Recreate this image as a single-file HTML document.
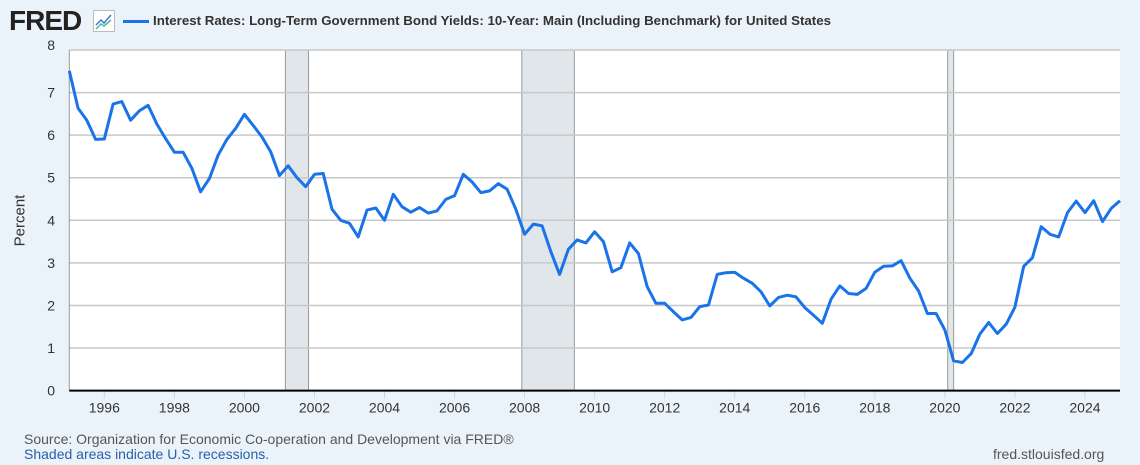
<!DOCTYPE html>
<html><head><meta charset="utf-8"><style>
body{margin:0;width:1140px;height:465px;background:#ebf3fa;font-family:"Liberation Sans",sans-serif;overflow:hidden;position:relative}
.t{position:absolute;white-space:nowrap}
</style></head><body>
<div class="t" style="left:9px;top:5px;font-size:28px;font-weight:bold;color:#222;letter-spacing:-1px">FRED</div>
<svg class="t" style="left:93px;top:10px" width="22" height="22"><rect x="0.5" y="0.5" width="21" height="21" fill="#fff" stroke="#bbb"/><polyline points="3,15 8,10 11,13 18,5" fill="none" stroke="#3a7bd5" stroke-width="1.5"/><polyline points="3,19 8,14 11,16 18,10" fill="none" stroke="#4db89a" stroke-width="1.5"/></svg>
<div class="t" style="left:123px;top:20px;width:26px;height:3px;background:#1a73e8"></div>
<div class="t" style="left:153px;top:13px;font-size:13.3px;font-weight:bold;color:#333">Interest Rates: Long-Term Government Bond Yields: 10-Year: Main (Including Benchmark) for United States</div>
<svg id="c" class="t" style="left:0;top:0" width="1140" height="465"></svg>
<div class="t" style="left:-6px;top:212px;font-size:15px;color:#333;transform:rotate(-90deg)">Percent</div>
<div class="t" style="left:24px;top:431px;font-size:14px;color:#555">Source: Organization for Economic Co-operation and Development via FRED®</div>
<div class="t" style="left:24px;top:446px;font-size:14px;color:#2a5ea8">Shaded areas indicate U.S. recessions.</div>
<div class="t" style="left:993px;top:446px;font-size:14px;color:#555">fred.stlouisfed.org</div>
<script>
const values=[7.51,6.63,6.35,5.9,5.91,6.73,6.79,6.35,6.57,6.70,6.26,5.92,5.6,5.6,5.22,4.67,4.98,5.53,5.9,6.16,6.49,6.23,5.96,5.61,5.05,5.28,5.0,4.79,5.08,5.1,4.26,4.0,3.93,3.61,4.24,4.29,4.0,4.61,4.32,4.19,4.30,4.17,4.22,4.49,4.58,5.08,4.90,4.65,4.69,4.86,4.73,4.26,3.67,3.91,3.87,3.26,2.73,3.32,3.54,3.47,3.73,3.50,2.79,2.89,3.47,3.22,2.44,2.05,2.05,1.85,1.66,1.72,1.97,2.01,2.73,2.77,2.78,2.64,2.52,2.32,1.99,2.19,2.24,2.20,1.95,1.77,1.58,2.15,2.46,2.28,2.26,2.40,2.78,2.92,2.93,3.05,2.64,2.34,1.81,1.81,1.42,0.70,0.66,0.87,1.33,1.60,1.34,1.56,1.96,2.92,3.12,3.85,3.67,3.61,4.18,4.45,4.18,4.46,3.97,4.28,4.46];
const startYear=1995;
const yTicks=[0,1,2,3,4,5,6,7,8];
const xTicks=[1996,1998,2000,2002,2004,2006,2008,2010,2012,2014,2016,2018,2020,2022,2024];
const recessions=[[2001.17,2001.83],[2007.92,2009.42],[2020.08,2020.25]];
const L=69.3,R=1120,T=50,B=390.6;
const X=t=>L+(t-1995)*(R-L)/30;
const Y=v=>B-(v/8)*(B-T);
const s=document.getElementById('c'),NS='http://www.w3.org/2000/svg';
function mk(tag,a){const e=document.createElementNS(NS,tag);for(const k in a)e.setAttribute(k,a[k]);s.appendChild(e);return e;}
const bg=mk('rect',{x:L,y:T,width:R-L,height:B-T,fill:'#fff'});


recessions.forEach(r=>{const e=mk('rect',{x:X(r[0]),y:T,width:X(r[1])-X(r[0]),height:B-T,fill:'#e1e6eb',stroke:'#999','stroke-width':1});

});
yTicks.forEach(v=>{if(v>0){const g=mk('line',{x1:L,x2:R,y1:Y(v),y2:Y(v),stroke:'#c8c8c8','stroke-width':1.5});

}
const t=mk('text',{x:55,y:Y(v)+(v==8?0:5),'text-anchor':'end','font-size':14,fill:'#333','font-family':'Liberation Sans'});t.textContent=v;

});
xTicks.forEach(yr=>{const l=mk('line',{x1:X(yr),x2:X(yr),y1:B,y2:B+8,stroke:'#ccd6eb'});


const t=mk('text',{x:X(yr),y:B+22,'text-anchor':'middle','font-size':14,fill:'#333','font-family':'Liberation Sans'});t.textContent=yr;

});
const la=mk('line',{x1:L,x2:L,y1:T,y2:B,stroke:'#999'});


const ax=mk('line',{x1:L,x2:R,y1:B,y2:B,stroke:'#000','stroke-width':2});


const pts=values.map((v,i)=>X(startYear+i/4).toFixed(1)+','+Y(v).toFixed(1)).join(' ');
const p=mk('polyline',{points:pts,fill:'none',stroke:'#1a73e8','stroke-width':3,'stroke-linejoin':'round'});


</script>
</body></html>
